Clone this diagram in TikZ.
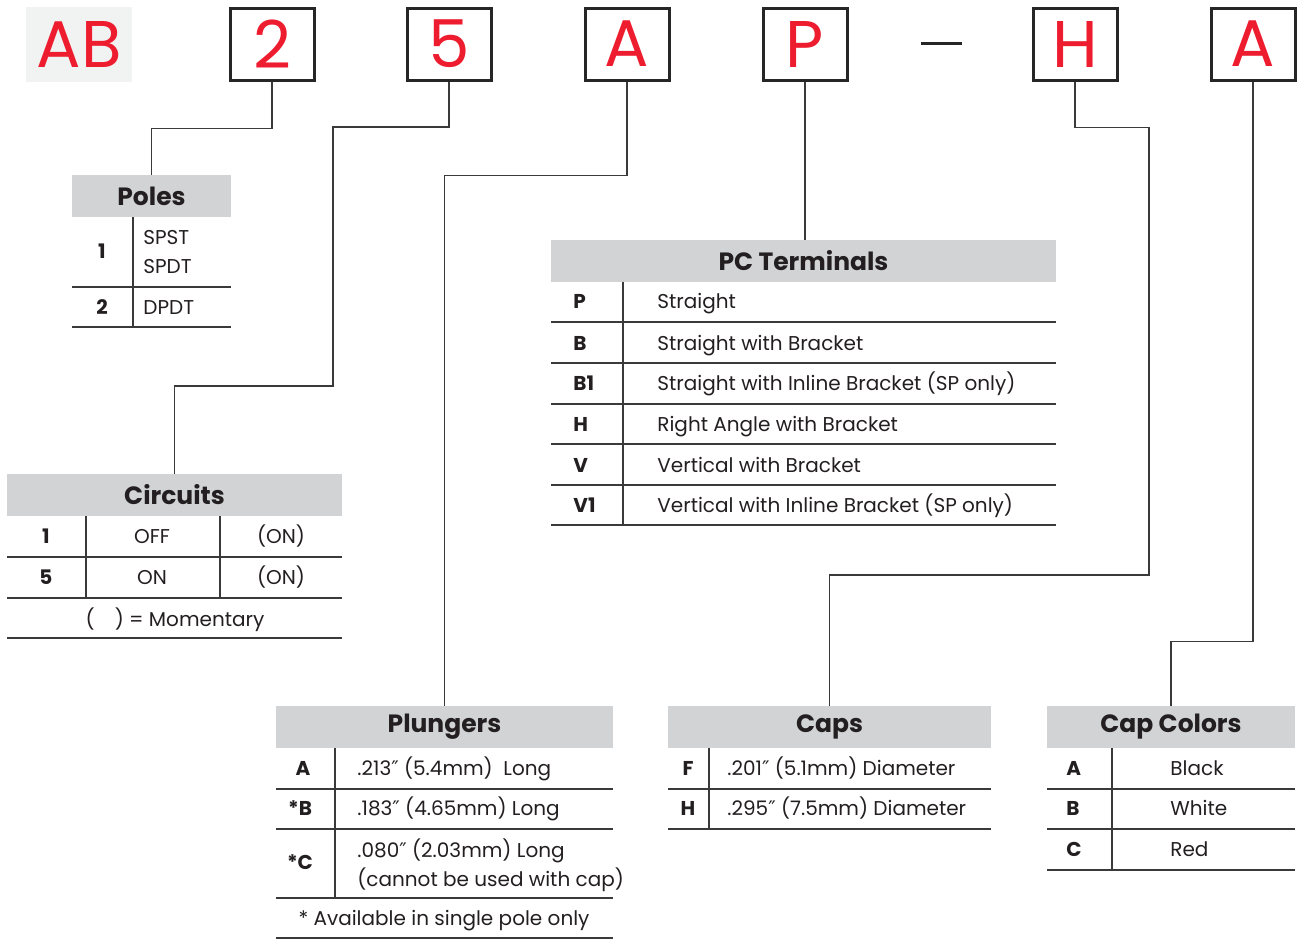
\documentclass[tikz,border=0pt]{standalone}
\usepackage{fontspec}
\setmainfont{Poppins}
\newfontfamily\primefont{DejaVu Sans}
\newcommand{\inch}{{\primefont ″}}
\definecolor{partred}{HTML}{ED1C2E}
\definecolor{hdrgray}{HTML}{D1D3D4}
\definecolor{abgray}{HTML}{F1F2F2}
\definecolor{inkgray}{HTML}{3A3A3A}
\definecolor{textblack}{HTML}{231F20}
\begin{document}
\begin{tikzpicture}[x=0.5pt,y=-0.5pt,
  code/.style={draw=black!85,line width=1.5pt,minimum width=42pt,minimum height=36pt,inner sep=0pt,text=partred,font=\fontsize{33}{33}\selectfont},
  hdr/.style={fill=hdrgray,minimum height=21pt,inner sep=0pt,text=textblack,font=\bfseries\fontsize{12.5}{15}\selectfont},
  key/.style={inner sep=0pt,text=textblack,text height=8pt,text depth=1.5pt,font=\bfseries\fontsize{10}{12}\selectfont},
  txt/.style={inner sep=0pt,text=textblack,text height=8pt,text depth=1.5pt,font=\fontsize{10}{12}\selectfont},
  tabline/.style={draw=inkgray,line width=0.6pt},
  link/.style={draw=inkgray,line width=0.7pt}]
\useasboundingbox (0,0) rectangle (1299,939);
\node[fill=abgray,minimum width=53pt,minimum height=37.5pt,inner sep=0pt,text=partred,font=\fontsize{33}{33}\selectfont] (cAB) at (79,44.5) {AB};
\node[code] (c2) at (272,44) {2};
\node[code] (c5) at (449,44) {5};
\node[code] (cA) at (627,44) {A};
\node[code] (cP) at (805,44) {P};
\draw[line width=1.5pt,black!85] (921,43) -- (962,43);
\node[code] (cH) at (1075,44) {H};
\node[code] (cA2) at (1253,44) {A};

\node[hdr,minimum width=79.5pt] (poles) at (151.5,196) {Poles};
\node[hdr,minimum width=167.5pt] (circ) at (174.5,495) {Circuits};
\node[hdr,minimum width=252.5pt] (pct) at (803.5,261) {PC Terminals};
\node[hdr,minimum width=168.5pt] (plung) at (444.5,727) {Plungers};
\node[hdr,minimum width=161.5pt] (caps) at (829.5,727) {Caps};
\node[hdr,minimum width=124pt] (colors) at (1171,727) {Cap Colors};

\draw[link] (c2.south) -- ++(0,47) -| (poles.north);
\draw[link] (c5.south) |- (333,127) -- (333,386) -| (circ.north);
\draw[link] (cA.south) -- ++(0,94) -| (plung.north);
\draw[link] (cP.south) -- (cP.south |- pct.north);
\draw[link] (cH.south) -- ++(0,46) -| (1149,575) -| (caps.north);
\draw[link] (cA2.south) -- ++(0,560) -| (colors.north);

\draw[tabline] (72,287) -- (231,287) (72,327) -- (231,327) (133,217) -- (133,327);
\node[key] (pk1) at (102,252) {1};
\node[txt,anchor=west] (pd1a) at (143,238) {SPST};
\node[txt,anchor=west] (pd1b) at (143,267) {SPDT};
\node[key] (pk2) at (102,308) {2};
\node[txt,anchor=west] (pd2) at (143,308) {DPDT};

\draw[tabline] (7,557) -- (342,557) (7,598) -- (342,598) (7,638) -- (342,638);
\draw[tabline] (86,516) -- (86,598) (220,516) -- (220,598);
\node[key] (ck1) at (46,537) {1};
\node[txt] (ca1) at (152,537) {OFF};
\node[txt] (cb1) at (281,537) {(ON)};
\node[key] (ck5) at (46,578) {5};
\node[txt] (ca5) at (152,578) {ON};
\node[txt] (cb5) at (281,578) {(ON)};
\node[txt] (cnote) at (175,620) {(\hspace{10pt}) = Momentary};

\draw[tabline] (551,322) -- (1056,322) (551,363) -- (1056,363) (551,404) -- (1056,404)
  (551,444) -- (1056,444) (551,485) -- (1056,485) (551,525) -- (1056,525);
\draw[tabline] (623,282) -- (623,525);
\node[key,anchor=west] (tk1) at (573,302) {P};
\node[txt,anchor=west] (td1) at (657,302) {Straight};
\node[key,anchor=west] (tk2) at (573,344) {B};
\node[txt,anchor=west] (td2) at (657,344) {Straight with Bracket};
\node[key,anchor=west] (tk3) at (573,384) {B1};
\node[txt,anchor=west] (td3) at (657,384) {Straight with Inline Bracket (SP only)};
\node[key,anchor=west] (tk4) at (573,425) {H};
\node[txt,anchor=west] (td4) at (657,425) {Right Angle with Bracket};
\node[key,anchor=west] (tk5) at (573,466) {V};
\node[txt,anchor=west] (td5) at (657,466) {Vertical with Bracket};
\node[key,anchor=west] (tk6) at (573,506) {V1};
\node[txt,anchor=west] (td6) at (657,506) {Vertical with Inline Bracket (SP only)};

\draw[tabline] (276,789) -- (613,789) (276,829) -- (613,829) (276,898) -- (613,898) (276,938) -- (613,938);
\draw[tabline] (335,748) -- (335,898);
\node[key] (lk1) at (303,769) {A};
\node[txt,anchor=west] (ld1) at (357,769) {.213\inch{} (5.4mm)\ \ Long};
\node[key] (lk2) at (300,809) {*B};
\node[txt,anchor=west] (ld2) at (357,809) {.183\inch{} (4.65mm) Long};
\node[key] (lk3) at (300,863) {*C};
\node[txt,anchor=west] (ld3a) at (357,851) {.080\inch{} (2.03mm) Long};
\node[txt,anchor=west] (ld3b) at (357,880) {(cannot be used with cap)};
\node[txt] (lnote) at (444,919) {* Available in single pole only};

\draw[tabline] (668,789) -- (991,789) (668,829) -- (991,829) (709,748) -- (709,829);
\node[key] (fk1) at (688,769) {F};
\node[txt,anchor=west] (fd1) at (727,769) {.201\inch{} (5.1mm) Diameter};
\node[key] (fk2) at (688,809) {H};
\node[txt,anchor=west] (fd2) at (727,809) {.295\inch{} (7.5mm) Diameter};

\draw[tabline] (1047,789) -- (1295,789) (1047,829) -- (1295,829) (1047,870) -- (1295,870);
\draw[tabline] (1112,748) -- (1112,870);
\node[key,anchor=west] (ok1) at (1066,769) {A};
\node[txt,anchor=west] (od1) at (1170,769) {Black};
\node[key,anchor=west] (ok2) at (1066,809) {B};
\node[txt,anchor=west] (od2) at (1170,809) {White};
\node[key,anchor=west] (ok3) at (1066,850) {C};
\node[txt,anchor=west] (od3) at (1170,850) {Red};
\end{tikzpicture}
\end{document}
